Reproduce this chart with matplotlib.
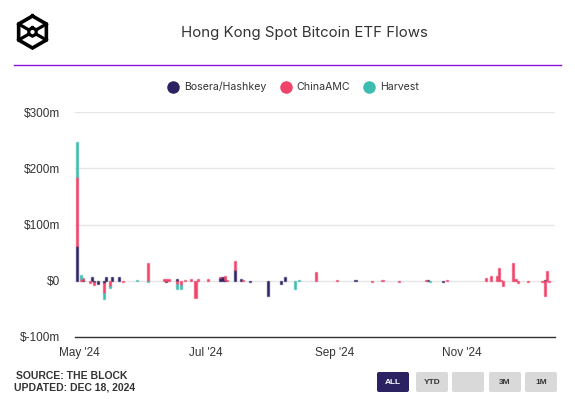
import pandas as pd
import numpy as np
import matplotlib.pyplot as plt
import matplotlib.dates as mdates
from matplotlib.lines import Line2D
from matplotlib.patches import FancyBboxPatch

# daily flows, US$ millions
dates = ['2024-04-30', '2024-05-02', '2024-05-03', '2024-05-06', '2024-05-07',
         '2024-05-08', '2024-05-10', '2024-05-13', '2024-05-14', '2024-05-16',
         '2024-05-17', '2024-05-20', '2024-05-22', '2024-05-29', '2024-06-03',
         '2024-06-11', '2024-06-12', '2024-06-13', '2024-06-17', '2024-06-19',
         '2024-06-21', '2024-06-24', '2024-06-26', '2024-06-27', '2024-07-02',
         '2024-07-08', '2024-07-09', '2024-07-10', '2024-07-11', '2024-07-15',
         '2024-07-18', '2024-07-19', '2024-07-22', '2024-07-31', '2024-08-06',
         '2024-08-08', '2024-08-13', '2024-08-15', '2024-08-23', '2024-09-02',
         '2024-09-11', '2024-09-19', '2024-09-24', '2024-10-02', '2024-10-15',
         '2024-10-16', '2024-10-17', '2024-10-23', '2024-10-25', '2024-11-13',
         '2024-11-15', '2024-11-18', '2024-11-19', '2024-11-20', '2024-11-21',
         '2024-11-26', '2024-11-27', '2024-11-28', '2024-12-03', '2024-12-10',
         '2024-12-11', '2024-12-12', '2024-12-13']
bosera = [61, 0, 2, 0, 6,
          -2, -5, -4, 6, 0,
          6, 6, 0, 0, 0,
          0, -2, 0, 4, 0,
          0, 0, 0, 0, 0,
          5, 7, 2, 0, 19,
          3, 0, -2, -27, -5,
          6, 0, 0, 0, 0,
          2, 0, 0, 0, 0,
          2, 0, -2, 0, 0,
          0, 0, 0, 0, 0,
          0, 0, 0, 0, 0,
          2, 0, 0]
chinaamc = [124, 4, 3, -4, 0,
            -5, 0, -18, 0, -10,
            0, 0, -2, 0, 31,
            3, 3, 3, -6, -8,
            2, 4, -30, 3, 3,
            2, 0, 6, 2, 17,
            0, 2, 0, 0, 0,
            0, 0, 0, 15, 2,
            0, -2, 2, -3, 2,
            0, 0, 0, 2, 5,
            8, 8, 22, 2, -9,
            31, 3, -4, -2, -3,
            -27, 18, -3]
harvest = [62, 6, 0, 0, 0,
           0, 0, -10, 0, -3,
           0, 0, 0, 2, -2,
           0, 0, 0, -9, -7,
           0, 0, 0, 0, 0,
           0, 0, 0, 0, 0,
           0, 0, 0, 0, 0,
           0, -15, 2, 0, 0,
           0, 0, 0, 0, 0,
           0, -2, 0, 0, 0,
           0, 0, 0, 0, 0,
           0, 0, 0, 0, 0,
           0, 0, 0]

series = ['Bosera/Hashkey', 'ChinaAMC', 'Harvest']
colors = ['#2b2262', '#f0436a', '#3dbdb0']

df = pd.DataFrame({'Bosera/Hashkey': bosera, 'ChinaAMC': chinaamc, 'Harvest': harvest},
                  index=pd.to_datetime(dates))

fig = plt.figure(figsize=(5.75, 3.99), dpi=100)
W, H = 575, 399

# logo (hexagon cube)
lax = fig.add_axes([0, 0, 1, 1])
lax.set_xlim(0, W)
lax.set_ylim(H, 0)
lax.axis('off')
cx, cy, r = 32.5, 32, 16
ang = np.deg2rad(np.arange(-90, 271, 60))
hx, hy = cx + r * np.cos(ang), cy + r * np.sin(ang)
lax.plot(hx, hy, color='black', lw=2.6, solid_joinstyle='miter')
ri = 4.2
ix, iy = cx + ri * np.cos(ang), cy + ri * np.sin(ang)
lax.plot(ix, iy, color='black', lw=2.3)
for k in [1, 2, 4, 5]:
    lax.plot([hx[k], ix[k]], [hy[k], iy[k]], color='black', lw=2.3)
# purple divider
lax.plot([14, 561], [65, 65], color='#8a12d6', lw=1.0)

fig.text(304 / W, 1 - 33 / H, 'Hong Kong Spot Bitcoin ETF Flows', ha='center', va='center',
         fontsize=10.8, family='Inter', color='#333333')

ax = fig.add_axes([75 / W, 1 - 337 / H, 480 / W, 225 / H])

pos_base = np.zeros(len(df))
neg_base = np.zeros(len(df))
for name, c in zip(series, colors):
    v = df[name].values.astype(float)
    pos = np.where(v > 0, v, 0)
    neg = np.where(v < 0, v, 0)
    for vals, base in [(pos, pos_base), (neg, neg_base)]:
        m = vals != 0
        ax.bar(df.index[m], vals[m], bottom=base[m], width=1.0, color=c,
               edgecolor=(*plt.matplotlib.colors.to_rgb(c), 0.55), linewidth=1.0, zorder=3)
    pos_base += pos
    neg_base += neg

ax.set_ylim(-100, 300)
ax.set_xlim(pd.Timestamp('2024-04-29'), pd.Timestamp('2024-12-16'))
ax.set_yticks([-100, 0, 100, 200, 300])
ax.set_yticklabels(['$-100m', '$0', '$100m', '$200m', '$300m'])
ax.grid(axis='y', color='#e6e6e6', lw=1, zorder=0)
for s in ['top', 'right', 'left']:
    ax.spines[s].set_visible(False)
ax.spines['bottom'].set_color('#333333')
ax.spines['bottom'].set_linewidth(1.0)
ax.tick_params(axis='y', length=0, pad=10.5, labelsize=8.5, labelcolor='#333333')
ax.tick_params(axis='x', length=0, pad=7.5, labelsize=8.5, labelcolor='#333333')
ax.xaxis.set_major_locator(mdates.MonthLocator(bymonth=[5, 7, 9, 11]))
ax.xaxis.set_major_formatter(mdates.DateFormatter("%b '%y"))
for lab in ax.get_xticklabels() + ax.get_yticklabels():
    lab.set_family('Liberation Sans')

handles = [Line2D([], [], marker='o', ls='', markersize=8, color=c) for c in colors]
leg = fig.legend(handles, series, loc='center', bbox_to_anchor=(291 / W, 1 - 87 / H), ncol=3,
                 frameon=False, handletextpad=0.05, columnspacing=0.8,
                 prop={'family': 'Inter', 'size': 7.6})
for t in leg.get_texts():
    t.set_color('#333333')

fig.text(16 / W, 1 - 376 / H, 'SOURCE: THE BLOCK', fontsize=7.5, weight='bold',
         family='Liberation Sans', color='#333333', va='center')
fig.text(14 / W, 1 - 388 / H, 'UPDATED: DEC 18, 2024', fontsize=7.5, weight='bold',
         family='Liberation Sans', color='#333333', va='center')

# range buttons
buttons = [('ALL', 377), ('YTD', 416), ('', 452), ('3M', 489), ('1M', 525)]
for lab, x0 in buttons:
    active = lab == 'ALL'
    lax.add_patch(FancyBboxPatch((x0, 372), 32, 20, boxstyle='round,pad=0,rounding_size=2',
                                 fc='#2b2262' if active else '#d9d9d9', ec='none'))
    lax.text(x0 + 16, 382, lab, ha='center', va='center', fontsize=6, weight='bold',
             family='Liberation Sans', color='white' if active else '#333333')

fig.savefig('out.png', dpi=100)
